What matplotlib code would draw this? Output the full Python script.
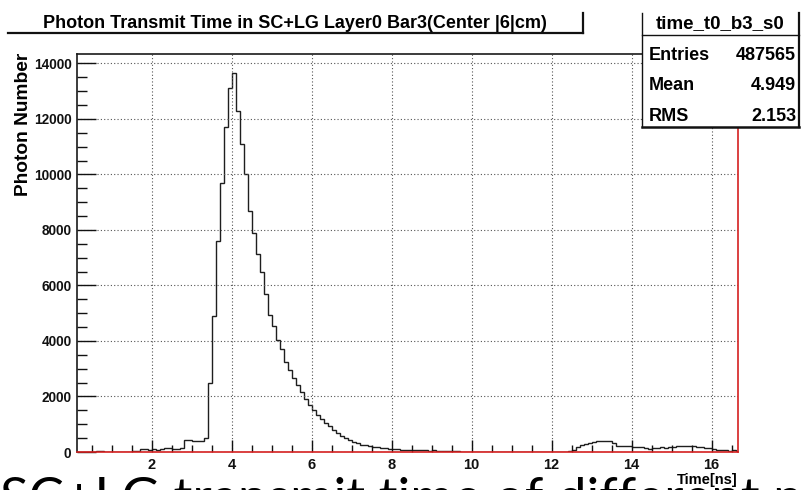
import numpy as np
import matplotlib
matplotlib.use("Agg")
import matplotlib.pyplot as plt
from matplotlib.lines import Line2D
from matplotlib.patches import Rectangle
from matplotlib.ticker import MultipleLocator

plt.rcParams['font.family'] = ['Liberation Sans', 'DejaVu Sans']
plt.rcParams['font.weight'] = 'bold'

# photon arrival time histogram, 0.1 ns bins starting at 0.1 ns
bin_lo = 0.1
bin_w = 0.1
counts = [
    0, 0, 5, 0, 10, 30, 25, 10, 15, 10,                  # 0.1 - 1.0
    5, 10, 0, 15, 20, 40, 120, 110, 90, 100,             # 1.1 - 2.0
    80, 110, 150, 130, 120, 115, 130, 420, 440, 400,     # 2.1 - 3.0
    380, 400, 520, 2500, 4900, 7600, 9700, 11700, 13100, 13650,   # 3.1 - 4.0
    12300, 11100, 10000, 8700, 7900, 7150, 6500, 5700, 4950, 4550,  # 4.1 - 5.0
    4050, 3700, 3250, 2950, 2650, 2400, 2150, 1900, 1700, 1530,     # 5.1 - 6.0
    1350, 1180, 1050, 920, 800, 690, 580, 490, 420, 360,  # 6.1 - 7.0
    310, 270, 240, 210, 190, 170, 150, 135, 120, 110,     # 7.1 - 8.0
    100, 90, 85, 80, 65, 60, 55, 60, 50, 55,              # 8.1 - 9.0
    45, 40, 45, 35, 30, 20, 15, 10, 10, 5,                # 9.1 - 10.0
    10, 5, 5, 0, 5, 5, 0, 5, 0, 5,                        # 10.1 - 11.0
    0, 5, 0, 0, 5, 0, 5, 0, 0, 5,                         # 11.1 - 12.0
    0, 5, 10, 20, 60, 180, 250, 300, 330, 370,            # 12.1 - 13.0
    390, 400, 400, 380, 320, 230, 210, 205, 200, 195,     # 13.1 - 14.0
    185, 170, 140, 125, 150, 160, 170, 160, 175, 180,     # 14.1 - 15.0
    200, 215, 220, 210, 215, 190, 175, 150, 130, 110,     # 15.1 - 16.0
    90, 70, 60, 50, 60, 50,                               # 16.1 - 16.6
]
hist_name = "time_t0_b3_s0"
stat_names = ["Entries", "Mean", "RMS"]
stat_values = ["487565", "4.949", "2.153"]

W, H = 807, 490
fig = plt.figure(figsize=(W / 100, H / 100), dpi=100)


def fx(px):
    return px / W


def fy(py):
    return 1 - py / H


ax = fig.add_axes([fx(77), fy(452), fx(738) - fx(77), fy(54) - fy(452)])

edges = bin_lo + bin_w * np.arange(len(counts) + 1)
ax.stairs(counts, edges, color='#1e1e1e', lw=1.0)

ax.set_xlim(0.13, 16.66)
ax.set_ylim(0, 14340)
ax.xaxis.set_major_locator(MultipleLocator(2))
ax.xaxis.set_minor_locator(MultipleLocator(0.5))
ax.yaxis.set_major_locator(MultipleLocator(2000))
ax.yaxis.set_minor_locator(MultipleLocator(500))
ax.grid(True, which='major', ls=(0, (1, 2)), color='#555555', lw=0.8)

ax.tick_params(axis='y', which='major', direction='in', length=14, width=1,
               pad=4, labelsize=9.8, colors='#111111')
ax.tick_params(axis='y', which='minor', direction='in', length=7, width=1,
               colors='#111111')
ax.tick_params(axis='x', which='major', direction='in', length=8.5, width=1,
               pad=4, labelsize=10.5, colors='#111111')
ax.tick_params(axis='x', which='minor', direction='in', length=5, width=1,
               colors='#111111')
ax.xaxis.set_major_formatter(lambda v, p: f"{v:.0f}" if v > 0.5 else "")

for side in ['left', 'top']:
    ax.spines[side].set_color('#1a1a1a')
    ax.spines[side].set_linewidth(1.2)
for side in ['bottom', 'right']:
    ax.spines[side].set_color('#d42020')
    ax.spines[side].set_linewidth(1.2)

# axis titles
fig.text(fx(24), fy(53), "Photon Number", rotation=90, ha='center', va='top',
         fontsize=13.8)
fig.text(fx(738), fy(480), "Time[ns]", ha='right', va='center', fontsize=10.5)

# title pave
fig.text(fx(295), fy(28.5), "Photon Transmit Time in SC+LG Layer0 Bar3(Center |6|cm)",
         ha='center', va='baseline', fontsize=13)
fig.add_artist(Line2D([fx(8), fx(583)], [fy(33.5), fy(33.5)], color='#111111', lw=1.6))
fig.add_artist(Line2D([fx(583), fx(583)], [fy(13), fy(33.5)], color='#111111', lw=1.6))

# statistics box
x0, x1, y0, y1 = 642, 799, 13, 127
fig.add_artist(Rectangle((fx(x0), fy(y1)), fx(x1) - fx(x0), fy(y0) - fy(y1),
                         facecolor='white', edgecolor='none', zorder=3))
for xs, ys, lw in [([x0, x0], [y0, y1], 1.0), ([x1, x1], [y0, y1], 1.6),
                   ([x0, x1], [y1, y1], 1.8), ([x0, x1], [35, 35], 1.0)]:
    fig.add_artist(Line2D([fx(v) for v in xs], [fy(v) for v in ys],
                          color='#111111', lw=lw, zorder=4))
fig.text(fx((x0 + x1) / 2), fy(28), hist_name, ha='center', va='baseline',
         fontsize=13.5, zorder=5)
for i, (name, val) in enumerate(zip(stat_names, stat_values)):
    yb = 60 + 30.5 * i
    fig.text(fx(649), fy(yb), name, ha='left', va='baseline', fontsize=13, zorder=5)
    fig.text(fx(796), fy(yb), val, ha='right', va='baseline', fontsize=13, zorder=5)

# slide caption running off the bottom edge
fig.text(0.0, fy(515), "SC+LG transmit time of different position", ha='left',
         va='baseline', fontsize=38, fontweight='normal', family=['Lato', 'DejaVu Sans'])

fig.savefig("out.png", dpi=100)
